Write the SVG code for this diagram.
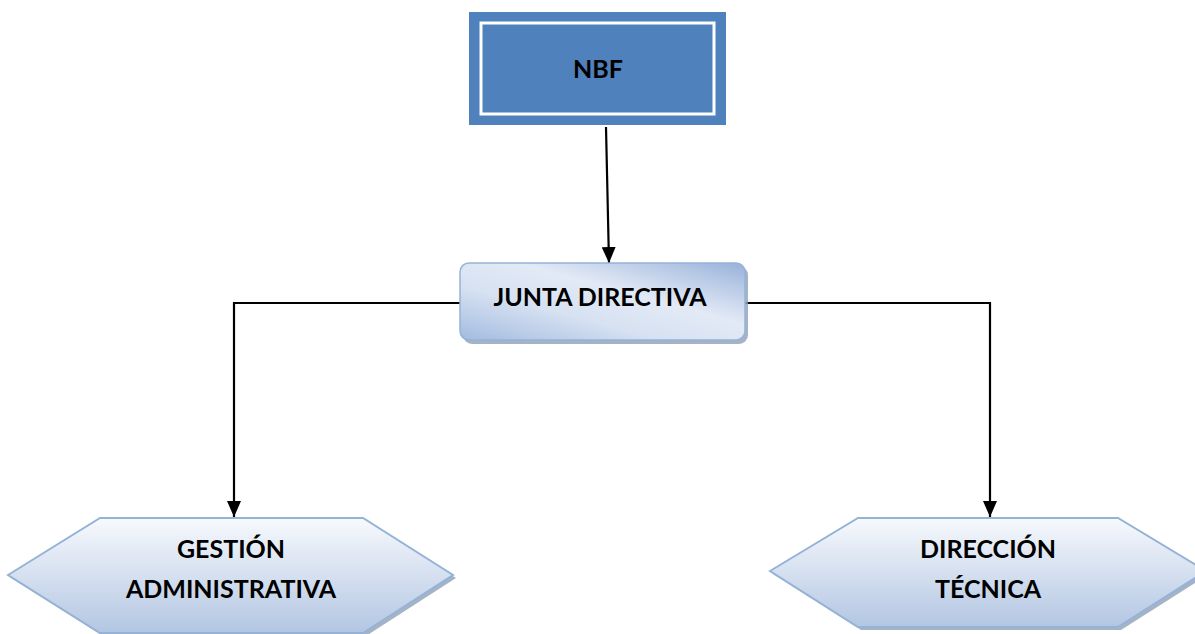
<svg xmlns="http://www.w3.org/2000/svg" width="1195" height="634" viewBox="0 0 1195 634">
<defs>
<style>
.lbl{font-family:Lato,"Open Sans","Liberation Sans",sans-serif;font-weight:bold;font-size:25px;fill:#000;text-anchor:middle}
.conn{fill:none;stroke:#000;stroke-width:2.2}
.hex{fill:url(#hexg);stroke:#95b3d7;stroke-width:2}
.shadow{fill:#8ea0b8;opacity:0.8}
</style>
<linearGradient id="hexg" x1="0" y1="0" x2="0" y2="1">
<stop offset="0" stop-color="#f7f9fd"/>
<stop offset="1" stop-color="#b3c6e2"/>
</linearGradient>
<linearGradient id="jg" x1="0" y1="1" x2="1" y2="0">
<stop offset="0" stop-color="#a3bbe0"/>
<stop offset="0.35" stop-color="#d6e1f1"/>
<stop offset="0.6" stop-color="#e3eaf6"/>
<stop offset="1" stop-color="#98b2da"/>
</linearGradient>
<marker id="arr" markerWidth="16" markerHeight="14" refX="16" refY="7" orient="auto" markerUnits="userSpaceOnUse">
<path d="M0,0 L16,7 L0,14 Z" fill="#000"/>
</marker>
</defs>
<rect width="1195" height="634" fill="#fff"/>
<g id="connectors">
<path class="conn" d="M606,127 L609,263" marker-end="url(#arr)"/>
<path class="conn" d="M460,303 L234,303 L234,517" marker-end="url(#arr)"/>
<path class="conn" d="M745,303 L990,303 L990,517" marker-end="url(#arr)"/>
</g>
<g id="nbf">
<rect x="469" y="12" width="257" height="113" fill="#4f81bd"/>
<rect x="481" y="23" width="233" height="91" fill="none" stroke="#fff" stroke-width="3"/>
<text class="lbl" x="598" y="78">NBF</text>
</g>
<g id="junta">
<rect x="463" y="266" width="285" height="78" rx="9" class="shadow"/>
<rect x="460" y="263" width="285" height="77" rx="9" fill="url(#jg)" stroke="#95b3d7" stroke-width="1.5"/>
<text class="lbl" x="600" y="306">JUNTA DIRECTIVA</text>
</g>
<g id="gestion">
<polygon class="shadow" points="11,578 103,521 366,521 456,578 366,636 103,636"/>
<polygon class="hex" points="8,575 100,518 363,518 453,575 363,633 100,633"/>
<text class="lbl" x="231" y="558">GESTIÓN</text>
<text class="lbl" x="231" y="598">ADMINISTRATIVA</text>
</g>
<g id="direccion">
<polygon class="shadow" points="773,574 861,521 1121,521 1209,574 1121,630 861,630"/>
<polygon class="hex" points="770,571 858,518 1118,518 1206,571 1118,627 858,627"/>
<text class="lbl" x="988" y="558">DIRECCIÓN</text>
<text class="lbl" x="988" y="598">TÉCNICA</text>
</g>
</svg>
